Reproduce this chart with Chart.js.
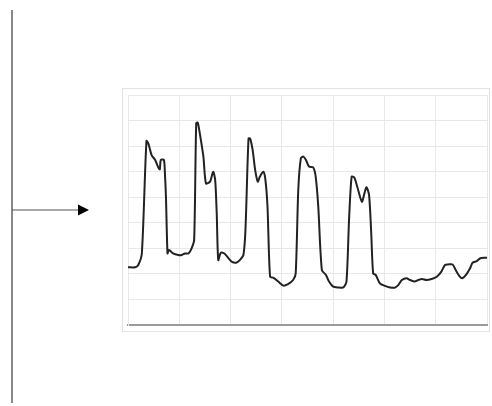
<!DOCTYPE html>
<html>
<head>
<meta charset="utf-8">
<script src="https://cdn.jsdelivr.net/npm/chart.js@4/dist/chart.umd.min.js"></script>
<style>
  html, body { margin: 0; padding: 0; background: #fff; }
  #wrap { width: 492px; height: 406px; }
</style>
</head>
<body>
<div id="wrap"><canvas id="myChart" width="492" height="406"></canvas></div>
<script>
// x positions in grid columns (0..7), y values in grid rows (0..9)
const xValue = [0, 0.14, 0.2, 0.27, 0.36, 0.4, 0.46, 0.53, 0.59, 0.62, 0.64, 0.7, 0.72, 0.74, 0.77, 0.79, 0.82, 0.88, 0.98, 1.05,
  1.11, 1.18, 1.24, 1.29, 1.33, 1.36, 1.4, 1.47, 1.52, 1.6, 1.66, 1.7, 1.73, 1.76, 1.81, 1.88, 1.96, 2.02, 2.11, 2.18,
  2.25, 2.29, 2.35, 2.38, 2.43, 2.48, 2.53, 2.57, 2.64, 2.68, 2.72, 2.77, 2.83, 2.93, 3.03, 3.12, 3.22, 3.27, 3.32, 3.37,
  3.42, 3.47, 3.53, 3.61, 3.66, 3.71, 3.78, 3.86, 3.92, 4.0, 4.1, 4.2, 4.26, 4.31, 4.36, 4.41, 4.47, 4.56, 4.61, 4.65,
  4.7, 4.74, 4.78, 4.83, 4.91, 5.01, 5.11, 5.2, 5.27, 5.34, 5.43, 5.5, 5.59, 5.66, 5.73, 5.82, 5.92, 6.02, 6.11, 6.18,
  6.24, 6.33, 6.39, 6.47, 6.52, 6.59, 6.67, 6.72, 6.8, 6.87, 6.96, 7.0];
const yValue = [2.26, 2.26, 2.35, 2.8, 7.2, 7.08, 6.65, 6.46, 6.17, 6.09, 6.46, 6.46, 5.93, 5.02, 2.8, 2.93, 2.91, 2.8, 2.74, 2.74,
  2.8, 2.8, 3.0, 3.33, 7.89, 7.92, 7.5, 6.59, 5.54, 5.61, 6.0, 5.67, 4.37, 2.54, 2.83, 2.8, 2.61, 2.48, 2.44, 2.54,
  2.74, 3.72, 7.3, 7.3, 6.85, 6.06, 5.61, 5.8, 6.0, 5.67, 4.63, 1.89, 1.85, 1.7, 1.54, 1.6, 1.76, 2.02, 5.28, 6.52,
  6.59, 6.46, 6.2, 6.17, 5.8, 4.63, 2.15, 1.96, 1.7, 1.5, 1.47, 1.47, 1.7, 4.11, 5.8, 5.78, 5.41, 4.82, 5.15, 5.39,
  5.09, 3.72, 2.02, 1.96, 1.63, 1.53, 1.47, 1.46, 1.56, 1.76, 1.83, 1.76, 1.7, 1.76, 1.8, 1.76, 1.8, 1.89, 2.09, 2.35,
  2.37, 2.37, 2.15, 1.89, 1.83, 1.96, 2.22, 2.44, 2.5, 2.61, 2.63, 2.63];

const points = xValue.map((x, i) => ({ x: x, y: yValue[i] }));

// frame, left line and arrow around the plot
const decorations = {
  id: 'decorations',
  beforeDraw(chart) {
    const c = chart.ctx;
    c.save();
    c.strokeStyle = '#888';
    c.lineWidth = 2;
    c.beginPath();
    c.moveTo(12, 10);
    c.lineTo(12, 403);
    c.stroke();

    c.strokeStyle = '#555';
    c.lineWidth = 1.2;
    c.beginPath();
    c.moveTo(12, 210);
    c.lineTo(80, 210);
    c.stroke();
    c.fillStyle = '#000';
    c.beginPath();
    c.moveTo(78, 204.5);
    c.lineTo(89, 210);
    c.lineTo(78, 215.5);
    c.closePath();
    c.fill();

    c.strokeStyle = '#e2e2e2';
    c.lineWidth = 1;
    c.strokeRect(122.5, 88.5, 367, 243);
    c.restore();
  }
};

let config = {
  type: 'line',
  data: {
    datasets: [{
      data: points,
      borderColor: '#222',
      borderWidth: 2,
      pointRadius: 0,
      tension: 0.25,
      fill: false,
    }],
  },
  options: {
    responsive: false,
    animation: false,
    layout: {
      padding: { left: 128, top: 95, right: 5, bottom: 81 }
    },
    plugins: {
      legend: { display: false },
      tooltip: { enabled: false },
    },
    scales: {
      x: {
        type: 'linear',
        min: 0,
        max: 7,
        ticks: { display: false, stepSize: 1 },
        border: { color: '#9a9a9a', width: 2 },
        grid: { color: '#e8e8e8', drawTicks: false }
      },
      y: {
        min: 0,
        max: 9,
        ticks: { display: false, stepSize: 1 },
        border: { color: '#e8e8e8' },
        grid: { color: '#e8e8e8', drawTicks: false }
      }
    }
  },
  plugins: [decorations]
};

const ctx = document.getElementById('myChart').getContext('2d');
const myChart = new Chart(ctx, config);
</script>
</body>
</html>
